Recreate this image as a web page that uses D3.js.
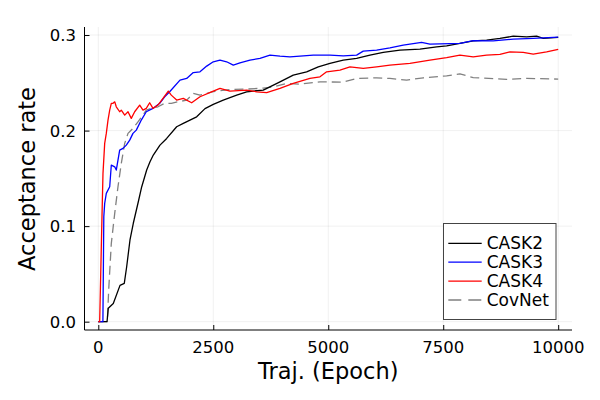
<!DOCTYPE html>
<html>
<head>
<meta charset="utf-8">
<script src="https://cdn.jsdelivr.net/npm/d3@7"></script>
<style>
  html, body { margin: 0; padding: 0; background: #fff; }
  svg { display: block; font-family: "DejaVu Sans", sans-serif; }
</style>
</head>
<body>
<svg id="chart" width="600" height="400"></svg>
<script>
// ---- data ----
const seriesNames = ["CASK2", "CASK3", "CASK4", "CovNet"];
const xTicks = [0, 2500, 5000, 7500, 10000];
const yTicks = [0.0, 0.1, 0.2, 0.3];

const cask2Epoch = [0, 190, 217, 326, 472, 565, 617, 689, 761, 870, 943, 1052, 1124, 1196, 1341, 1487, 1704, 1848, 1993, 2139, 2320, 2500, 2717, 3009, 3226, 3587, 3950, 4239, 4530, 4783, 5037, 5326, 5617, 5907, 6196, 6559, 6993, 7357, 7574, 7863, 8152, 8443, 8733, 9022, 9313, 9530, 9674, 10000];
const cask2Rate  = [0, 0, 0.014, 0.019, 0.038, 0.040, 0.0575, 0.0855, 0.103, 0.1255, 0.141, 0.1587, 0.1674, 0.1744, 0.1848, 0.1918, 0.204, 0.2075, 0.211, 0.2144, 0.223, 0.2275, 0.2319, 0.2371, 0.2406, 0.2424, 0.251, 0.258, 0.2615, 0.2667, 0.2703, 0.2737, 0.2755, 0.279, 0.2818, 0.2842, 0.2853, 0.2877, 0.2887, 0.2912, 0.2939, 0.2947, 0.2964, 0.2988, 0.2981, 0.2988, 0.2964, 0.2975];

const cask3Epoch = [0, 100, 120, 139, 174, 248, 283, 357, 391, 465, 537, 609, 683, 754, 826, 935, 1043, 1189, 1335, 1443, 1552, 1776, 1922, 2065, 2211, 2357, 2500, 2646, 2791, 2935, 3080, 3298, 3515, 3733, 3950, 4167, 4385, 4674, 5037, 5326, 5617, 5761, 6052, 6341, 6630, 7030, 7211, 7863, 8152, 8587, 9022, 9457, 10000];
const cask3Rate  = [0, 0, 0.110, 0.1238, 0.1343, 0.1412, 0.1639, 0.1621, 0.1587, 0.1796, 0.1814, 0.1848, 0.190, 0.1971, 0.2005, 0.211, 0.2197, 0.2232, 0.2285, 0.2354, 0.2406, 0.2528, 0.2546, 0.2607, 0.2615, 0.2675, 0.272, 0.2737, 0.272, 0.2685, 0.2709, 0.2737, 0.2755, 0.279, 0.2779, 0.2772, 0.2779, 0.279, 0.279, 0.2782, 0.279, 0.2832, 0.2842, 0.2866, 0.2894, 0.2923, 0.2905, 0.2912, 0.2941, 0.2939, 0.2957, 0.2964, 0.2978];

const cask4Epoch = [0, 30, 80, 102, 139, 174, 211, 248, 283, 320, 357, 391, 465, 500, 574, 646, 717, 791, 900, 972, 1043, 1117, 1189, 1298, 1407, 1522, 1587, 1704, 1848, 2030, 2211, 2500, 2646, 2863, 3226, 3443, 3661, 3950, 4239, 4602, 4820, 4965, 5254, 5472, 5761, 6052, 6341, 6776, 7211, 7574, 7863, 8152, 8443, 8733, 8950, 9239, 9457, 9748, 10000];
const cask4Rate  = [0, 0, 0.1098, 0.1552, 0.1866, 0.197, 0.211, 0.2214, 0.2285, 0.2285, 0.2301, 0.2249, 0.2197, 0.2214, 0.2162, 0.2197, 0.2128, 0.2197, 0.2267, 0.2214, 0.2232, 0.2291, 0.2232, 0.2267, 0.2337, 0.2413, 0.2371, 0.2319, 0.2337, 0.2291, 0.2354, 0.2413, 0.2441, 0.2413, 0.2424, 0.2406, 0.2398, 0.2441, 0.2494, 0.2546, 0.2563, 0.2615, 0.2633, 0.2667, 0.2651, 0.2667, 0.2685, 0.2703, 0.2737, 0.2764, 0.279, 0.2772, 0.279, 0.2797, 0.2824, 0.2818, 0.280, 0.2824, 0.2849];

const covnetEpoch = [0, 196, 226, 283, 357, 428, 500, 574, 646, 754, 863, 972, 1043, 1152, 1298, 1443, 1587, 1733, 1922, 2065, 2211, 2500, 2863, 3226, 3587, 3804, 4096, 4385, 4820, 5326, 5617, 6052, 6341, 6704, 7065, 7574, 7863, 8152, 8878, 9313, 10000];
const covnetRate  = [0, 0, 0.0332, 0.082, 0.1134, 0.1412, 0.1657, 0.1866, 0.1971, 0.2023, 0.2092, 0.2162, 0.2214, 0.2232, 0.2249, 0.2285, 0.2285, 0.2301, 0.2319, 0.2389, 0.237, 0.2408, 0.2429, 0.2434, 0.2444, 0.2458, 0.2494, 0.2486, 0.251, 0.2507, 0.2546, 0.2552, 0.2546, 0.2528, 0.2552, 0.2573, 0.2593, 0.2554, 0.2536, 0.2546, 0.2539];

const seriesColors = ["#000000", "#0000ff", "#ff0000", "#808080"];
const seriesDash = [null, null, null, "9,5"];

// ---- layout ----
const svg = d3.select("#chart");
const pLeft = 84.5, pRight = 572, pTop = 27, pBottom = 330;

const x = d3.scaleLinear().domain([-300, 10300]).range([pLeft, pRight]);
const y = d3.scaleLinear().domain([-0.0087, 0.3084]).range([pBottom, pTop]);

// grid
const grid = svg.append("g").attr("stroke", "#000").attr("stroke-opacity", 0.1).attr("stroke-width", 0.6);
grid.selectAll("line.gx").data(xTicks).enter().append("line")
  .attr("x1", d => x(d)).attr("x2", d => x(d)).attr("y1", pTop).attr("y2", pBottom);
grid.selectAll("line.gy").data(yTicks).enter().append("line")
  .attr("x1", pLeft).attr("x2", pRight).attr("y1", d => y(d)).attr("y2", d => y(d));

// axes (inward ticks)
const xAxis = d3.axisTop(x).tickValues(xTicks).tickSize(5).tickFormat(d3.format("d"));
const gx = svg.append("g").attr("transform", `translate(0,${pBottom})`).call(xAxis);
gx.select(".domain").remove();
gx.selectAll(".tick text").remove();
gx.selectAll(".tick line").attr("stroke", "#000");

const yAxis = d3.axisRight(y).tickValues(yTicks).tickSize(5);
const gy = svg.append("g").attr("transform", `translate(${pLeft},0)`).call(yAxis);
gy.select(".domain").remove();
gy.selectAll(".tick text").remove();
gy.selectAll(".tick line").attr("stroke", "#000");

// axis lines
svg.append("line").attr("x1", pLeft).attr("x2", pLeft).attr("y1", pTop).attr("y2", pBottom).attr("stroke", "#000").attr("stroke-width", 1);
svg.append("line").attr("x1", pLeft).attr("x2", pRight).attr("y1", pBottom).attr("y2", pBottom).attr("stroke", "#000").attr("stroke-width", 1);

// tick labels
svg.append("g").selectAll("text").data(xTicks).enter().append("text")
  .attr("x", d => x(d)).attr("y", 352.5)
  .attr("text-anchor", "middle").attr("font-size", "16.5px").attr("fill", "#000")
  .text(d => d3.format("d")(d));
svg.append("g").selectAll("text").data(yTicks).enter().append("text")
  .attr("x", 76).attr("y", d => y(d)).attr("dy", "0.36em")
  .attr("text-anchor", "end").attr("font-size", "16.5px").attr("fill", "#000")
  .text(d => d3.format(".1f")(d));

// axis titles
svg.append("text").attr("x", (pLeft + pRight) / 2).attr("y", 379)
  .attr("text-anchor", "middle").attr("font-size", "22.5px").attr("fill", "#000")
  .text("Traj. (Epoch)");
svg.append("text").attr("transform", `translate(35,${(pTop + pBottom) / 2 + 0.5}) rotate(-90)`)
  .attr("text-anchor", "middle").attr("font-size", "22.5px").attr("fill", "#000")
  .text("Acceptance rate");

// series
const epochs = [cask2Epoch, cask3Epoch, cask4Epoch, covnetEpoch];
const rates = [cask2Rate, cask3Rate, cask4Rate, covnetRate];
const lineGen = d3.line().x(d => x(d[0])).y(d => y(d[1]));
const order = [3, 0, 1, 2];
order.forEach(i => {
  const pts = epochs[i].map((e, k) => [e, rates[i][k]]);
  svg.append("path").datum(pts)
    .attr("d", lineGen)
    .attr("fill", "none")
    .attr("stroke", seriesColors[i])
    .attr("stroke-width", 1.3)
    .attr("stroke-linejoin", "round")
    .attr("stroke-dasharray", seriesDash[i]);
});

// legend
const lg = svg.append("g");
lg.append("rect").attr("x", 443.5).attr("y", 223.5).attr("width", 112.5).attr("height", 96)
  .attr("fill", "#fff").attr("stroke", "#444").attr("stroke-width", 1);
const rowY = [243.3, 262.2, 281.1, 300];
seriesNames.forEach((name, i) => {
  lg.append("line").attr("x1", 448.3).attr("x2", 481.7).attr("y1", rowY[i]).attr("y2", rowY[i])
    .attr("stroke", seriesColors[i]).attr("stroke-width", 1.3)
    .attr("stroke-dasharray", seriesDash[i] ? "13,7" : null);
  lg.append("text").attr("x", 486.7).attr("y", rowY[i]).attr("dy", "0.36em")
    .attr("font-size", "17px").attr("fill", "#000").text(name);
});
</script>
</body>
</html>
